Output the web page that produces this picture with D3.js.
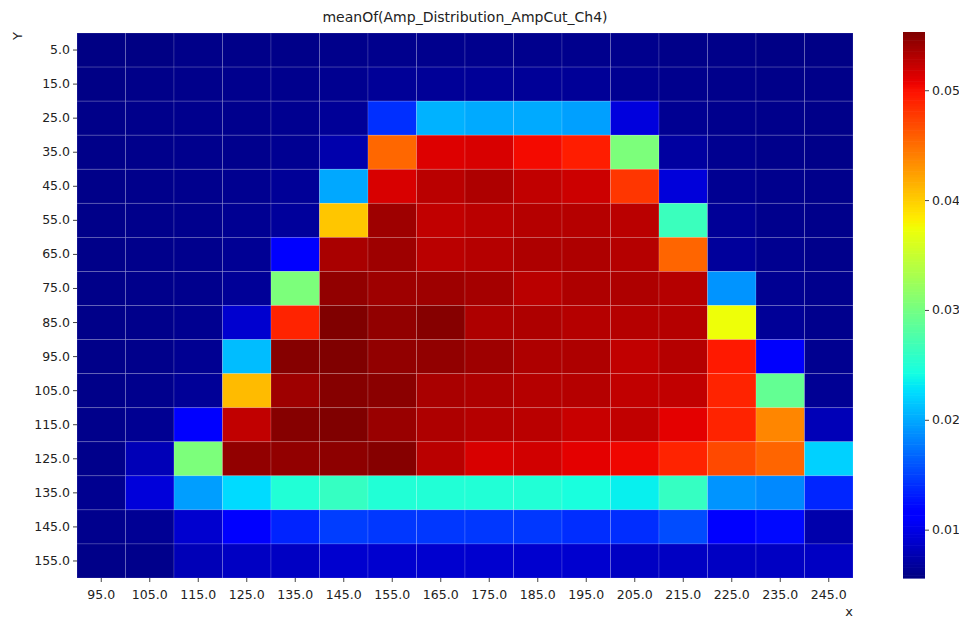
<!DOCTYPE html>
<html lang="en">
<head>
    <meta charset="UTF-8">
    <title>meanOf(Amp_Distribution_AmpCut_Ch4)</title>
    <script src="https://d3js.org/d3.v7.min.js"></script>
    <style>
        body, html { margin: 0; padding: 0; background: #fff; }
        svg { display: block; font-family: "DejaVu Sans", sans-serif; }
    </style>
</head>
<body>
    <script>
        // categories
        const xCats = [95, 105, 115, 125, 135, 145, 155, 165, 175, 185, 195, 205, 215, 225, 235, 245];
        const yCats = [5, 15, 25, 35, 45, 55, 65, 75, 85, 95, 105, 115, 125, 135, 145, 155];
        const cbTicks = [0.01, 0.02, 0.03, 0.04, 0.05];

        // mean values, one row per y category (columns follow xCats)
        const values = [
            [0.0058, 0.0058, 0.0060, 0.0060, 0.0060, 0.0061, 0.0062, 0.0062, 0.0062, 0.0062, 0.0062, 0.0062, 0.0060, 0.0060, 0.0059, 0.0059],
            [0.0059, 0.0060, 0.0061, 0.0062, 0.0062, 0.0063, 0.0066, 0.0066, 0.0066, 0.0066, 0.0066, 0.0064, 0.0062, 0.0061, 0.0060, 0.0060],
            [0.0060, 0.0061, 0.0062, 0.0062, 0.0063, 0.0066, 0.0141, 0.0205, 0.0201, 0.0201, 0.0196, 0.0096, 0.0064, 0.0062, 0.0061, 0.0060],
            [0.0060, 0.0061, 0.0062, 0.0062, 0.0064, 0.0075, 0.0454, 0.0513, 0.0515, 0.0503, 0.0493, 0.0305, 0.0070, 0.0063, 0.0061, 0.0060],
            [0.0060, 0.0061, 0.0062, 0.0063, 0.0066, 0.0200, 0.0515, 0.0528, 0.0533, 0.0525, 0.0520, 0.0480, 0.0095, 0.0064, 0.0062, 0.0061],
            [0.0060, 0.0061, 0.0062, 0.0064, 0.0068, 0.0404, 0.0540, 0.0525, 0.0528, 0.0530, 0.0530, 0.0528, 0.0265, 0.0066, 0.0062, 0.0061],
            [0.0060, 0.0061, 0.0062, 0.0065, 0.0116, 0.0535, 0.0540, 0.0528, 0.0530, 0.0533, 0.0533, 0.0530, 0.0455, 0.0068, 0.0063, 0.0061],
            [0.0060, 0.0061, 0.0062, 0.0066, 0.0305, 0.0545, 0.0540, 0.0540, 0.0537, 0.0528, 0.0533, 0.0533, 0.0530, 0.0190, 0.0064, 0.0062],
            [0.0060, 0.0061, 0.0063, 0.0090, 0.0490, 0.0553, 0.0545, 0.0550, 0.0533, 0.0533, 0.0530, 0.0530, 0.0530, 0.0374, 0.0066, 0.0062],
            [0.0060, 0.0061, 0.0064, 0.0210, 0.0550, 0.0553, 0.0545, 0.0545, 0.0540, 0.0533, 0.0533, 0.0525, 0.0530, 0.0495, 0.0110, 0.0063],
            [0.0060, 0.0062, 0.0066, 0.0410, 0.0540, 0.0550, 0.0548, 0.0535, 0.0533, 0.0530, 0.0530, 0.0525, 0.0525, 0.0490, 0.0290, 0.0065],
            [0.0061, 0.0064, 0.0116, 0.0525, 0.0550, 0.0553, 0.0542, 0.0533, 0.0530, 0.0528, 0.0522, 0.0525, 0.0510, 0.0490, 0.0438, 0.0080],
            [0.0061, 0.0080, 0.0305, 0.0545, 0.0545, 0.0547, 0.0550, 0.0528, 0.0515, 0.0518, 0.0510, 0.0505, 0.0490, 0.0470, 0.0455, 0.0220],
            [0.0063, 0.0095, 0.0195, 0.0225, 0.0250, 0.0262, 0.0250, 0.0250, 0.0250, 0.0250, 0.0245, 0.0235, 0.0262, 0.0190, 0.0185, 0.0136],
            [0.0062, 0.0065, 0.0090, 0.0116, 0.0135, 0.0148, 0.0145, 0.0145, 0.0145, 0.0145, 0.0140, 0.0140, 0.0155, 0.0116, 0.0122, 0.0075],
            [0.0060, 0.0061, 0.0080, 0.0085, 0.0085, 0.0090, 0.0090, 0.0090, 0.0090, 0.0090, 0.0090, 0.0085, 0.0085, 0.0085, 0.0085, 0.0085]
        ];

        const width = 959;
        const height = 618;
        const plot = { left: 77, right: 853, top: 33, bottom: 578 };
        const cb = { left: 903, right: 925, top: 32, bottom: 578 };

        // matplotlib "jet"
        function seg(pts, t) {
            for (let i = 1; i < pts.length; i++) {
                if (t <= pts[i][0]) {
                    const [x0, y0] = pts[i - 1], [x1, y1] = pts[i];
                    return y0 + (y1 - y0) * (t - x0) / (x1 - x0);
                }
            }
            return pts[pts.length - 1][1];
        }
        const jetR = [[0, 0], [0.35, 0], [0.66, 1], [0.89, 1], [1, 0.5]];
        const jetG = [[0, 0], [0.125, 0], [0.375, 1], [0.64, 1], [0.91, 0], [1, 0]];
        const jetB = [[0, 0.5], [0.11, 1], [0.34, 1], [0.65, 0], [1, 0]];
        const jet = t => {
            t = Math.max(0, Math.min(1, t));
            return d3.rgb(seg(jetR, t) * 255, seg(jetG, t) * 255, seg(jetB, t) * 255).toString();
        };

        const vmin = 0.0056, vmax = 0.0553;
        const color = d3.scaleSequential(jet).domain([vmin, vmax]);

        const svg = d3.select("body").append("svg")
            .attr("width", width)
            .attr("height", height);

        const x = d3.scaleBand().domain(xCats).range([plot.left, plot.right]).padding(0);
        const y = d3.scaleBand().domain(yCats).range([plot.top, plot.bottom]).padding(0);

        const cells = [];
        values.forEach((row, i) => row.forEach((v, j) => cells.push({ x: xCats[j], y: yCats[i], v })));

        svg.append("g").selectAll("rect")
            .data(cells)
            .enter().append("rect")
            .attr("x", d => x(d.x))
            .attr("y", d => y(d.y))
            .attr("width", x.bandwidth())
            .attr("height", y.bandwidth())
            .attr("fill", d => color(d.v))
            .attr("stroke", "rgba(255,255,255,0.18)")
            .attr("stroke-width", 0.8);

        // axes
        const fmt = d => d.toFixed(1);
        const xAxis = svg.append("g")
            .attr("transform", `translate(0,${plot.bottom})`)
            .call(d3.axisBottom(x).tickFormat(fmt).tickSize(4).tickSizeOuter(0));
        const yAxis = svg.append("g")
            .attr("transform", `translate(${plot.left},0)`)
            .call(d3.axisLeft(y).tickFormat(fmt).tickSize(4).tickSizeOuter(0));
        [xAxis, yAxis].forEach(a => {
            a.select(".domain").remove();
            a.selectAll("text").attr("font-size", 12.5).attr("fill", "#222").attr("font-family", "DejaVu Sans, sans-serif");
            a.selectAll("line").attr("stroke", "#444");
        });
        xAxis.selectAll("text").attr("dy", "1.1em");

        // title and axis labels
        svg.append("text")
            .attr("x", (plot.left + plot.right) / 2)
            .attr("y", 22)
            .attr("text-anchor", "middle")
            .attr("font-size", 14)
            .attr("fill", "#222")
            .text("meanOf(Amp_Distribution_AmpCut_Ch4)");

        svg.append("text")
            .attr("transform", "translate(22,36) rotate(-90)")
            .attr("text-anchor", "middle")
            .attr("font-size", 13)
            .attr("fill", "#222")
            .text("Y");

        svg.append("text")
            .attr("x", 849)
            .attr("y", 616)
            .attr("text-anchor", "middle")
            .attr("font-size", 13)
            .attr("fill", "#222")
            .text("x");

        // colorbar
        const cbScale = d3.scaleLinear().domain([vmin, vmax]).range([cb.bottom, cb.top]);
        const steps = d3.range(0, 200);
        svg.append("g").selectAll("rect")
            .data(steps)
            .enter().append("rect")
            .attr("x", cb.left)
            .attr("width", cb.right - cb.left)
            .attr("y", i => cb.bottom - (i + 1) * (cb.bottom - cb.top) / steps.length)
            .attr("height", (cb.bottom - cb.top) / steps.length + 0.6)
            .attr("fill", i => color(vmin + (i + 0.5) / steps.length * (vmax - vmin)));

        const cbAxis = svg.append("g")
            .attr("transform", `translate(${cb.right},0)`)
            .call(d3.axisRight(cbScale).tickValues(cbTicks).tickFormat(d3.format(".2f")).tickSize(4));
        cbAxis.select(".domain").remove();
        cbAxis.selectAll("text").attr("font-size", 12.5).attr("fill", "#222").attr("font-family", "DejaVu Sans, sans-serif");
        cbAxis.selectAll("line").attr("stroke", "#444");
    </script>
</body>
</html>
